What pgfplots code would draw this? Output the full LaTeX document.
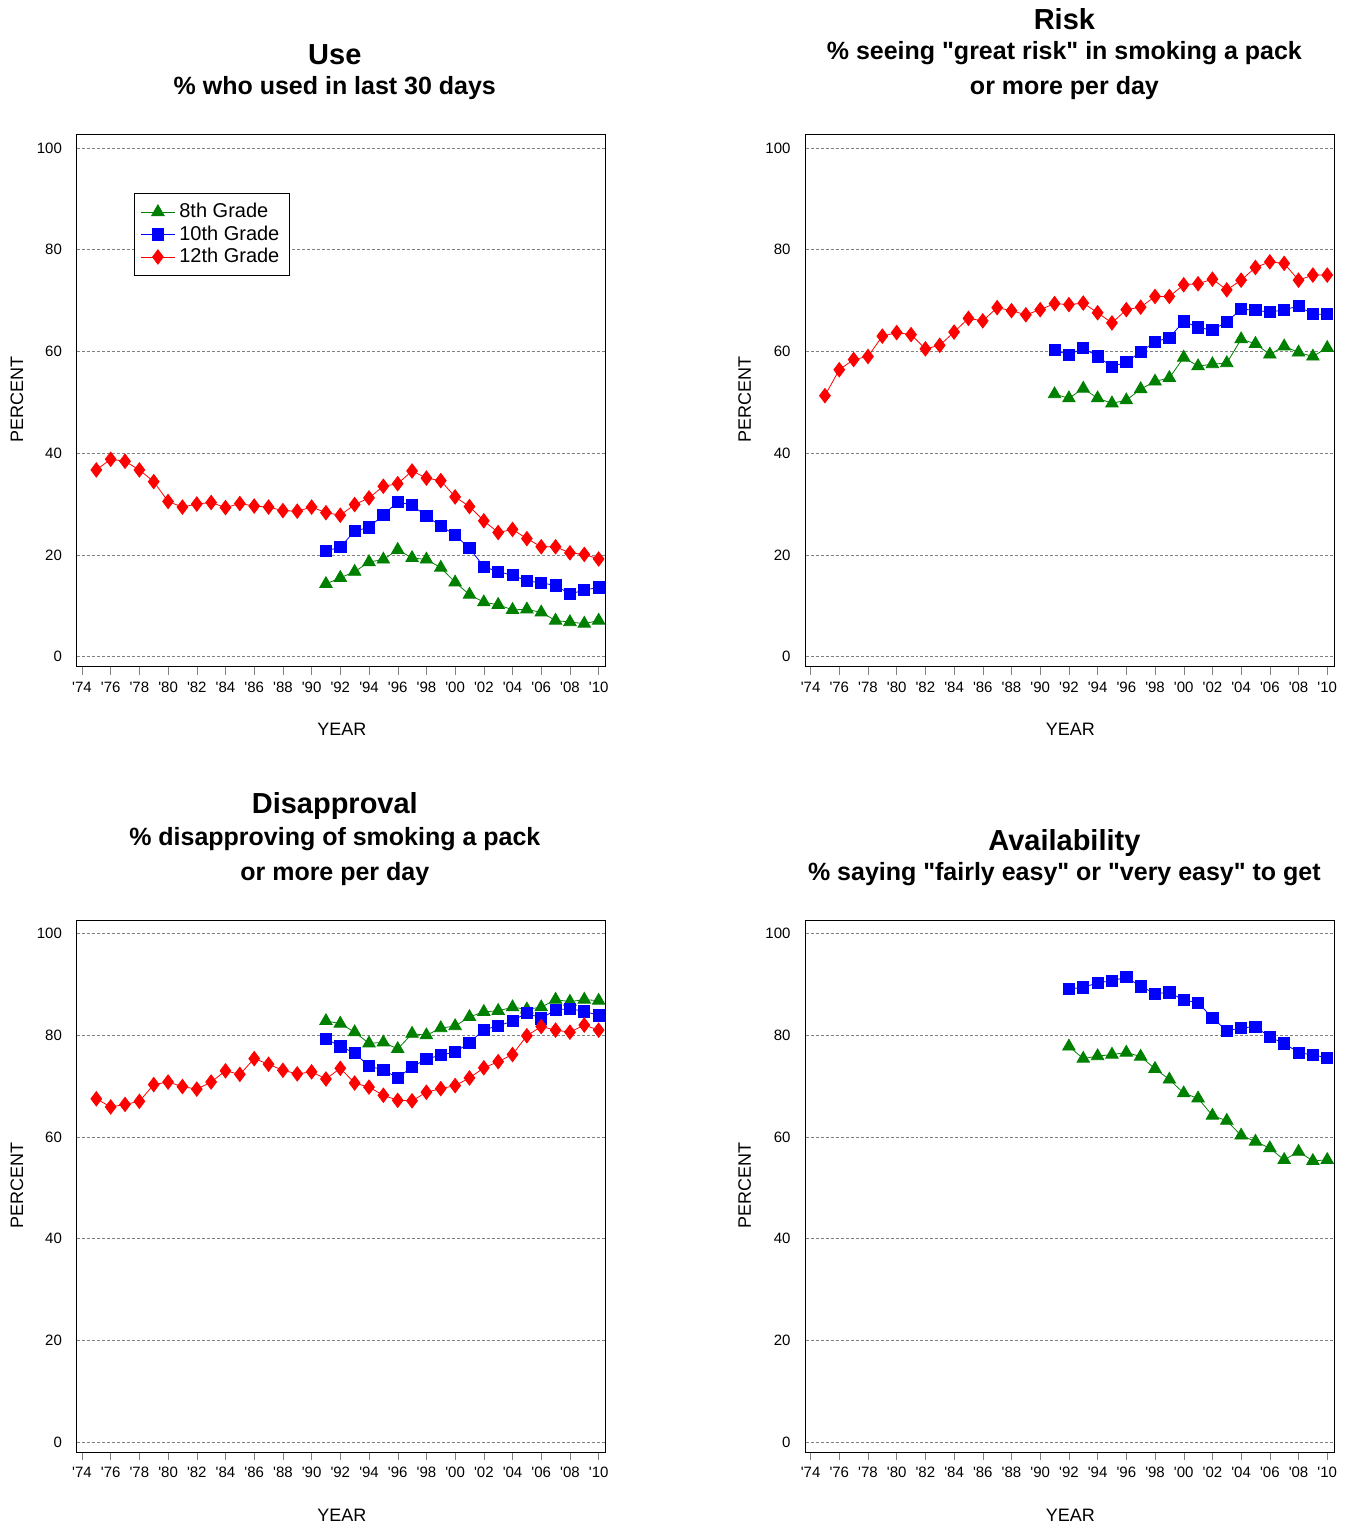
\documentclass[border=0pt]{standalone}
\usepackage{pgfplots}
\pgfplotsset{compat=1.18}
\usepackage{fontspec}
\setmainfont{Liberation Sans}
\definecolor{dg}{RGB}{0,128,0}
\pgfplotsset{panel/.style={scale only axis,width=264.5pt,height=266pt,anchor=south west,
 xmin=1973.65,xmax=2010.49,ymin=-1.96,ymax=102.55,
 xtick={1974,1976,...,2010},minor x tick num=1,
 xticklabels={\textquotesingle74,\textquotesingle76,\textquotesingle78,\textquotesingle80,\textquotesingle82,\textquotesingle84,\textquotesingle86,\textquotesingle88,\textquotesingle90,\textquotesingle92,\textquotesingle94,\textquotesingle96,\textquotesingle98,\textquotesingle00,\textquotesingle02,\textquotesingle04,\textquotesingle06,\textquotesingle08,\textquotesingle10},
 xtick pos=bottom, tick align=outside, major tick length=4pt, minor tick length=4pt,
 ytick={0,20,...,100}, ytick pos=left, ytick style={draw=none},
 ymajorgrids, grid style={dash pattern=on 1.5pt off 1pt,gray,line width=0.3pt},
 tick label style={font=\fontsize{7.5}{8}\selectfont},
 /pgf/number format/assume math mode=true,
 axis line style={line width=0.5pt}},
 g8/.style={dg,line width=0.4pt,mark=triangle*,mark size=3.6pt},
 g10/.style={blue,line width=0.4pt,mark=square*,mark size=2.8pt},
 g12/.style={red,line width=0.4pt,mark=diamond*,mark size=3.6pt}}
\begin{document}
\begin{tikzpicture}
\path (0,0) (677.5pt,-764pt);
\tikzset{T/.style={font=\bfseries\fontsize{14.5}{16}\selectfont},S/.style={font=\bfseries\fontsize{12.5}{14}\selectfont}}
\def\q{\textquotedbl}
\node[T] at (167.5pt,-27.5pt) {Use};
\node[S] at (167.5pt,-44pt) {\% who used in last 30 days};
\node[T] at (532.5pt,-9.5pt) {Risk};
\node[S] at (532.5pt,-26.5pt) {\% seeing \q great risk\q{} in smoking a pack};
\node[S] at (532.5pt,-44pt) {or more per day};
\node[T] at (167.5pt,-403pt) {Disapproval};
\node[S] at (167.5pt,-420pt) {\% disapproving of smoking a pack};
\node[S] at (167.5pt,-437.5pt) {or more per day};
\node[T] at (532.5pt,-421.5pt) {Availability};
\node[S] at (532.5pt,-437.5pt) {\% saying \q fairly easy\q{} or \q very easy\q{} to get};
\node[font=\fontsize{9}{10}\selectfont,rotate=90] at (8.5pt,-200pt) {PERCENT};
\node[font=\fontsize{9}{10}\selectfont,rotate=90] at (372.5pt,-200pt) {PERCENT};
\node[font=\fontsize{9}{10}\selectfont,rotate=90] at (8.5pt,-593pt) {PERCENT};
\node[font=\fontsize{9}{10}\selectfont,rotate=90] at (372.5pt,-593pt) {PERCENT};
\node[font=\fontsize{9}{10}\selectfont] at (171pt,-365pt) {YEAR};
\node[font=\fontsize{9}{10}\selectfont] at (535.5pt,-365pt) {YEAR};
\node[font=\fontsize{9}{10}\selectfont] at (171pt,-758pt) {YEAR};
\node[font=\fontsize{9}{10}\selectfont] at (535.5pt,-758pt) {YEAR};

\begin{axis}[panel,at={(38.5pt,-333.5pt)},
 legend style={at={(0.108,0.891)},anchor=north west,font=\fontsize{10}{11}\selectfont,draw=black,inner sep=3pt,row sep=-1.5pt},
 legend cell align=left]
\addplot[g8] coordinates {(1991,14.3)(1992,15.5)(1993,16.7)(1994,18.6)(1995,19.1)(1996,21.0)(1997,19.4)(1998,19.1)(1999,17.5)(2000,14.6)(2001,12.2)(2002,10.7)(2003,10.2)(2004,9.2)(2005,9.3)(2006,8.7)(2007,7.1)(2008,6.8)(2009,6.5)(2010,7.1)};
\addplot[g10] coordinates {(1991,20.8)(1992,21.5)(1993,24.7)(1994,25.4)(1995,27.9)(1996,30.4)(1997,29.8)(1998,27.6)(1999,25.7)(2000,23.9)(2001,21.3)(2002,17.7)(2003,16.7)(2004,16.0)(2005,14.9)(2006,14.5)(2007,14.0)(2008,12.3)(2009,13.1)(2010,13.6)};
\addplot[g12] coordinates {(1975,36.7)(1976,38.8)(1977,38.4)(1978,36.7)(1979,34.4)(1980,30.5)(1981,29.4)(1982,30.0)(1983,30.3)(1984,29.3)(1985,30.1)(1986,29.6)(1987,29.4)(1988,28.7)(1989,28.6)(1990,29.4)(1991,28.3)(1992,27.8)(1993,29.9)(1994,31.2)(1995,33.5)(1996,34.0)(1997,36.5)(1998,35.1)(1999,34.6)(2000,31.4)(2001,29.5)(2002,26.7)(2003,24.4)(2004,25.0)(2005,23.2)(2006,21.6)(2007,21.6)(2008,20.4)(2009,20.1)(2010,19.2)};
\legend{8th Grade,10th Grade,12th Grade}
\end{axis}

\begin{axis}[panel,at={(403pt,-333.5pt)}]
\addplot[g8] coordinates {(1991,51.6)(1992,50.8)(1993,52.7)(1994,50.8)(1995,49.8)(1996,50.4)(1997,52.6)(1998,54.1)(1999,54.8)(2000,58.8)(2001,57.1)(2002,57.5)(2003,57.7)(2004,62.4)(2005,61.5)(2006,59.4)(2007,61.0)(2008,59.8)(2009,59.0)(2010,60.7)};
\addplot[g10] coordinates {(1991,60.3)(1992,59.3)(1993,60.7)(1994,59.0)(1995,57.0)(1996,57.9)(1997,59.9)(1998,61.9)(1999,62.7)(2000,65.9)(2001,64.7)(2002,64.2)(2003,65.8)(2004,68.3)(2005,68.1)(2006,67.7)(2007,68.2)(2008,68.9)(2009,67.3)(2010,67.3)};
\addplot[g12] coordinates {(1975,51.3)(1976,56.4)(1977,58.4)(1978,59.0)(1979,63.0)(1980,63.7)(1981,63.3)(1982,60.5)(1983,61.2)(1984,63.8)(1985,66.5)(1986,66.0)(1987,68.6)(1988,68.0)(1989,67.2)(1990,68.2)(1991,69.4)(1992,69.2)(1993,69.5)(1994,67.6)(1995,65.6)(1996,68.2)(1997,68.7)(1998,70.8)(1999,70.8)(2000,73.1)(2001,73.3)(2002,74.2)(2003,72.1)(2004,74.0)(2005,76.5)(2006,77.6)(2007,77.3)(2008,74.0)(2009,75.0)(2010,75.0)};
\end{axis}

\begin{axis}[panel,at={(38.5pt,-726.5pt)}]
\addplot[g8] coordinates {(1991,82.8)(1992,82.3)(1993,80.6)(1994,78.4)(1995,78.6)(1996,77.3)(1997,80.3)(1998,80.0)(1999,81.4)(2000,81.8)(2001,83.6)(2002,84.6)(2003,84.8)(2004,85.5)(2005,85.1)(2006,85.5)(2007,87.0)(2008,86.6)(2009,87.0)(2010,86.8)};
\addplot[g10] coordinates {(1991,79.3)(1992,77.8)(1993,76.5)(1994,73.9)(1995,73.2)(1996,71.6)(1997,73.8)(1998,75.3)(1999,76.1)(2000,76.7)(2001,78.5)(2002,81.1)(2003,81.8)(2004,82.8)(2005,84.4)(2006,83.3)(2007,85.0)(2008,85.2)(2009,84.7)(2010,83.9)};
\addplot[g12] coordinates {(1975,67.5)(1976,65.9)(1977,66.4)(1978,67.0)(1979,70.3)(1980,70.8)(1981,69.9)(1982,69.4)(1983,70.8)(1984,73.0)(1985,72.3)(1986,75.4)(1987,74.3)(1988,73.1)(1989,72.4)(1990,72.8)(1991,71.4)(1992,73.5)(1993,70.6)(1994,69.8)(1995,68.2)(1996,67.2)(1997,67.1)(1998,68.8)(1999,69.5)(2000,70.1)(2001,71.6)(2002,73.6)(2003,74.8)(2004,76.2)(2005,79.9)(2006,81.7)(2007,81.0)(2008,80.6)(2009,82.0)(2010,81.0)};
\end{axis}

\begin{axis}[panel,at={(403pt,-726.5pt)}]
\addplot[g8] coordinates {(1992,77.8)(1993,75.4)(1994,75.9)(1995,76.2)(1996,76.6)(1997,75.8)(1998,73.4)(1999,71.3)(2000,68.6)(2001,67.6)(2002,64.2)(2003,63.2)(2004,60.3)(2005,59.1)(2006,57.8)(2007,55.5)(2008,57.1)(2009,55.3)(2010,55.5)};
\addplot[g10] coordinates {(1992,89.1)(1993,89.4)(1994,90.3)(1995,90.7)(1996,91.4)(1997,89.6)(1998,88.2)(1999,88.4)(2000,86.9)(2001,86.4)(2002,83.4)(2003,80.9)(2004,81.4)(2005,81.7)(2006,79.6)(2007,78.4)(2008,76.6)(2009,76.1)(2010,75.6)};
\end{axis}
\end{tikzpicture}
\end{document}
